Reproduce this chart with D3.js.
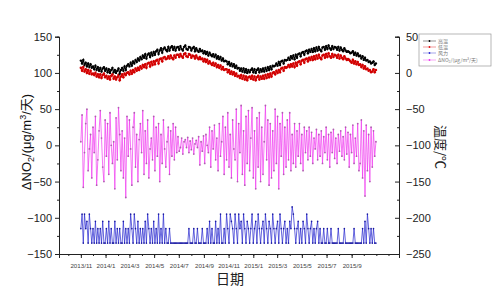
<!DOCTYPE html>
<html><head><meta charset="utf-8">
<script src="https://cdn.jsdelivr.net/npm/d3@7"></script>
<style>body{margin:0;background:#fff}</style>
</head><body>
<svg id="c" width="500" height="303"></svg>
<script>
// ---- data ----
const startDate = "2013-11-01";
const stepDays = 3;
const xTickLabels = ["2013/11","2014/1","2014/3","2014/5","2014/7","2014/9","2014/11","2015/1","2015/3","2015/5","2015/7","2015/9"];
const leftTicks = [150,100,50,0,-50,-100,-150];
const rightTicks = [50,0,-50,-100,-150,-200,-250];
const seriesNames = ["高温","低温","风力","ΔNO₂/(μg/m³/天)"];

// high temperature (°C, right axis)
const highTemp = [
17,13,18,11,14,9,13,8,12,7,
9,5,10,4,8,3,7,2,6,8,
3,6,1,5,0,4,7,1,4,0,
3,6,-1,4,7,3,9,4,10,12,
9,14,10,16,13,18,15,20,17,22,
19,24,21,26,20,25,27,22,28,24,
29,25,30,32,26,31,34,28,33,35,
32,30,36,31,35,37,32,36,31,35,
36,32,37,33,31,36,38,33,32,36,
35,31,34,36,30,34,31,29,33,30,
31,27,30,26,29,24,28,25,23,26,
22,25,20,23,19,22,17,20,16,17,
16,12,15,10,13,9,12,7,10,6,
7,3,6,2,6,1,5,0,4,1,
4,6,1,5,0,4,6,1,5,2,
6,2,7,3,8,4,9,5,10,9,
10,13,10,15,11,16,17,13,18,17,
18,21,18,23,20,24,19,25,21,26,
27,23,28,29,25,30,31,27,32,29,
33,29,34,30,35,31,36,32,30,35,
36,32,37,33,38,34,32,37,33,36,
35,32,36,31,35,32,30,34,31,29,
30,29,27,28,30,25,28,24,27,23,
24,20,23,18,21,17,18,15,16,13,
14,16,11,13];

// low temperature (°C, right axis)
const lowTemp = [
7,3,8,2,5,0,4,-1,3,-2,
-1,-3,0,-5,-2,-6,-2,-7,-3,-1,
-6,-4,-8,-5,-9,-4,-2,-8,-5,-9,
-6,-3,-10,-5,-2,-6,-1,-3,0,1,
-2,3,-1,4,1,6,3,7,4,9,
6,11,8,12,7,13,14,9,15,11,
16,12,17,18,13,19,20,16,21,22,
19,20,23,20,24,21,19,24,21,25,
25,22,26,23,21,26,27,23,22,26,
25,21,24,23,20,24,21,19,22,19,
20,16,19,15,18,13,16,13,11,14,
10,13,8,11,7,10,5,8,4,5,
5,1,4,-1,2,-2,1,-4,-1,-5,
-4,-7,-3,-8,-4,-9,-5,-10,-6,-5,
-8,-4,-9,-5,-10,-6,-4,-9,-5,-8,
-4,-8,-3,-7,-2,-6,-1,-5,0,1,
-2,3,0,4,1,6,7,3,8,7,
8,11,8,12,9,13,8,14,10,15,
16,12,17,18,14,19,20,16,21,18,
22,18,23,19,24,20,25,21,19,24,
25,21,26,22,27,23,21,26,22,25,
24,21,25,20,24,21,19,23,20,18,
19,18,16,14,18,13,16,12,15,11,
12,8,11,6,9,5,6,3,4,1,
2,5,1,4];

// wind (plotted in left-axis units)
const wind = [
-115,-95,-135,-95,-115,-105,-135,-95,-115,-135,
-115,-135,-105,-135,-115,-135,-115,-135,-105,-135,
-135,-115,-135,-105,-135,-115,-135,-135,-105,-135,
-115,-135,-115,-135,-135,-105,-135,-115,-135,-115,
-135,-95,-115,-135,-95,-115,-135,-105,-135,-115,
-135,-115,-135,-105,-135,-95,-115,-135,-115,-135,
-105,-135,-115,-135,-95,-135,-115,-135,-95,-135,
-115,-135,-135,-115,-135,-135,-135,-135,-135,-135,
-135,-135,-135,-135,-135,-135,-135,-135,-135,-115,
-135,-135,-135,-115,-135,-135,-115,-135,-135,-135,
-115,-135,-135,-135,-115,-135,-105,-135,-115,-135,
-135,-105,-135,-115,-135,-95,-135,-135,-115,-135,
-95,-115,-135,-95,-105,-115,-135,-95,-115,-135,
-95,-115,-105,-135,-95,-115,-135,-105,-115,-135,
-115,-95,-135,-115,-105,-135,-95,-115,-135,-115,
-105,-135,-95,-115,-135,-105,-115,-135,-95,-115,
-135,-115,-105,-135,-95,-115,-135,-115,-105,-135,
-115,-135,-105,-115,-85,-95,-115,-135,-115,-105,
-135,-115,-135,-105,-115,-135,-95,-115,-135,-115,
-105,-135,-115,-135,-115,-105,-135,-115,-135,-135,
-115,-135,-135,-115,-135,-135,-115,-135,-135,-135,
-135,-135,-115,-135,-135,-135,-135,-115,-135,-135,
-135,-135,-135,-135,-135,-115,-135,-135,-135,-135,
-135,-135,-115,-135,-105,-135,-95,-115,-135,-115,
-135,-115,-135,-135];

// ΔNO2 (μg/m³/天, left axis)
const dNO2 = [
5,42,-58,-10,30,50,-35,-5,15,-45,
25,-10,40,-55,-20,20,48,10,-30,-50,
35,-15,30,-40,45,0,-25,5,-60,38,
-20,52,15,-35,20,-45,10,-72,40,-15,
35,-5,-55,25,45,-30,15,-50,8,30,
-10,48,-40,20,-25,35,-45,-5,10,-20,
40,-35,25,-15,30,-50,15,-25,35,-5,
-30,5,25,-40,20,-15,30,-20,25,-10,
12,-8,-3,10,-12,5,8,-3,11,-10,
6,-6,10,-12,2,7,-3,12,-27,5,
-8,13,-25,15,0,-10,25,-30,20,-5,
28,-20,10,-35,30,-15,5,40,-40,25,
-20,45,-30,15,-45,35,-5,-20,50,-50,
30,-10,55,-40,20,-55,40,-25,48,-35,
10,52,-45,20,-60,38,-30,45,-50,25,
-40,5,55,-20,35,-55,30,-45,20,-35,
50,-25,40,-60,30,-15,45,-40,25,-30,
35,-20,45,-35,15,-25,30,-30,20,-15,
30,-25,15,-35,25,-10,20,-20,25,-15,
18,-25,10,-5,22,-20,15,-15,20,-25,
12,-10,25,-20,15,-30,18,-10,22,-18,
10,-25,15,-8,20,-15,12,-20,25,-12,
18,-30,15,-10,28,-25,10,-15,30,-35,
-25,35,-45,20,-70,28,-35,15,-50,25,
-30,20,-15,5];

// ---- drawing ----
const svg = d3.select("#c");
const parse = d3.timeParse("%Y-%m-%d");
const t0 = parse(startDate);
const dates = dNO2.map((_, i) => d3.timeDay.offset(t0, i * stepDays));

const x = d3.scaleTime().domain([parse("2013-09-08"), parse("2015-12-27")]).range([59, 399]);
const yL = d3.scaleLinear().domain([-150, 150]).range([254, 36.7]);
const yR = d3.scaleLinear().domain([-250, 50]).range([254, 36.7]);

const tickFont = "'Liberation Sans', Arial, sans-serif";

// left axis
const gL = svg.append("g").attr("transform", "translate(59,0)")
  .call(d3.axisLeft(yL).tickValues(leftTicks).tickSize(4).tickPadding(3).tickFormat(d3.format("d")));
gL.append("g").call(d3.axisLeft(yL).tickValues(d3.range(-125, 150, 50)).tickSize(2).tickFormat(""));
// right axis (inward ticks)
const gR = svg.append("g").attr("transform", "translate(399,0)")
  .call(d3.axisRight(yR).tickValues(rightTicks).tickSize(-4).tickPadding(7).tickFormat(d3.format("d")));
gR.append("g").call(d3.axisRight(yR).tickValues(d3.range(-225, 50, 50)).tickSize(-2).tickFormat(""));
// bottom axis
const labelDates = xTickLabels.map(d3.timeParse("%Y/%m"));
const gB = svg.append("g").attr("transform", "translate(0,254)")
  .call(d3.axisBottom(x).tickValues(labelDates).tickSize(4).tickPadding(6).tickFormat((d, i) => xTickLabels[i]));
gB.append("g").call(d3.axisBottom(x).tickValues(d3.timeMonth.range(x.domain()[0], x.domain()[1])).tickSize(2).tickFormat(""));

[gL, gR, gB].forEach(g => {
  g.selectAll(".domain").attr("stroke", "#222").attr("stroke-width", 1);
  g.selectAll(".tick line").attr("stroke", "#222");
});
gL.selectAll(".tick text").attr("font-family", tickFont).attr("font-size", 11).attr("fill", "#222");
gR.selectAll(".tick text").attr("font-family", tickFont).attr("font-size", 11).attr("fill", "#222");
gB.selectAll(".tick text").attr("font-family", tickFont).attr("font-size", 6.2).attr("fill", "#444");

// series
function drawSeries(vals, yScale, color, width, mColor, r, opacity) {
  const line = d3.line().x((d, i) => x(dates[i])).y(d => yScale(d));
  svg.append("path").datum(vals).attr("d", line).attr("fill", "none")
    .attr("stroke", color).attr("stroke-width", width).attr("stroke-opacity", opacity);
  svg.append("g").selectAll("circle").data(vals).join("circle")
    .attr("cx", (d, i) => x(dates[i])).attr("cy", d => yScale(d)).attr("r", r).attr("fill", mColor);
}
drawSeries(wind, yL, "#2a2ad0", 0.8, "#1a1aa0", 0.8, 0.9);
drawSeries(dNO2, yL, "#ee33ee", 0.8, "#b060b0", 0.9, 0.85);
drawSeries(lowTemp, yR, "#e01010", 1.3, "#d00000", 1.3, 1);
drawSeries(highTemp, yR, "#000", 1.2, "#000", 1.2, 1);

// axis titles
const lt = svg.append("text").attr("transform", "translate(31,142) rotate(-90)")
  .attr("text-anchor", "middle").attr("font-family", "'Liberation Sans', 'Noto Sans CJK SC', sans-serif")
  .attr("font-size", 13).attr("fill", "#111");
lt.append("tspan").text("ΔNO");
lt.append("tspan").text("2").attr("font-size", 9).attr("dy", 3);
lt.append("tspan").text("/(μg/m").attr("dy", -3);
lt.append("tspan").text("3").attr("font-size", 9).attr("dy", -5);
lt.append("tspan").text("/天)").attr("dy", 5);

svg.append("text").attr("transform", "translate(436,147) rotate(90)")
  .attr("text-anchor", "middle").attr("font-family", "'Noto Sans CJK SC', sans-serif")
  .attr("font-size", 13).attr("fill", "#222").text("温度/℃");

svg.append("text").attr("x", 230).attr("y", 284).attr("text-anchor", "middle")
  .attr("font-family", "'Noto Sans CJK SC', sans-serif").attr("font-size", 14).attr("fill", "#222").text("日期");

// legend
const lg = svg.append("g");
lg.append("rect").attr("x", 419).attr("y", 34).attr("width", 72).attr("height", 32)
  .attr("fill", "#fff").attr("stroke", "#999").attr("stroke-width", 0.7);
const legColors = ["#000", "#e01010", "#2a2ad0", "#ee33ee"];
const legY = [41, 47, 53, 60];
seriesNames.forEach((n, i) => {
  lg.append("line").attr("x1", 423).attr("x2", 436).attr("y1", legY[i]).attr("y2", legY[i])
    .attr("stroke", legColors[i]).attr("stroke-width", 0.6).attr("opacity", 0.7);
  lg.append("circle").attr("cx", 429.5).attr("cy", legY[i]).attr("r", 0.9).attr("fill", legColors[i]);
  lg.append("text").attr("x", 438).attr("y", legY[i] + 1.8).attr("font-size", 5)
    .attr("font-family", "'Noto Sans CJK SC', sans-serif").attr("fill", "#777").text(n);
});
</script>
</body></html>
